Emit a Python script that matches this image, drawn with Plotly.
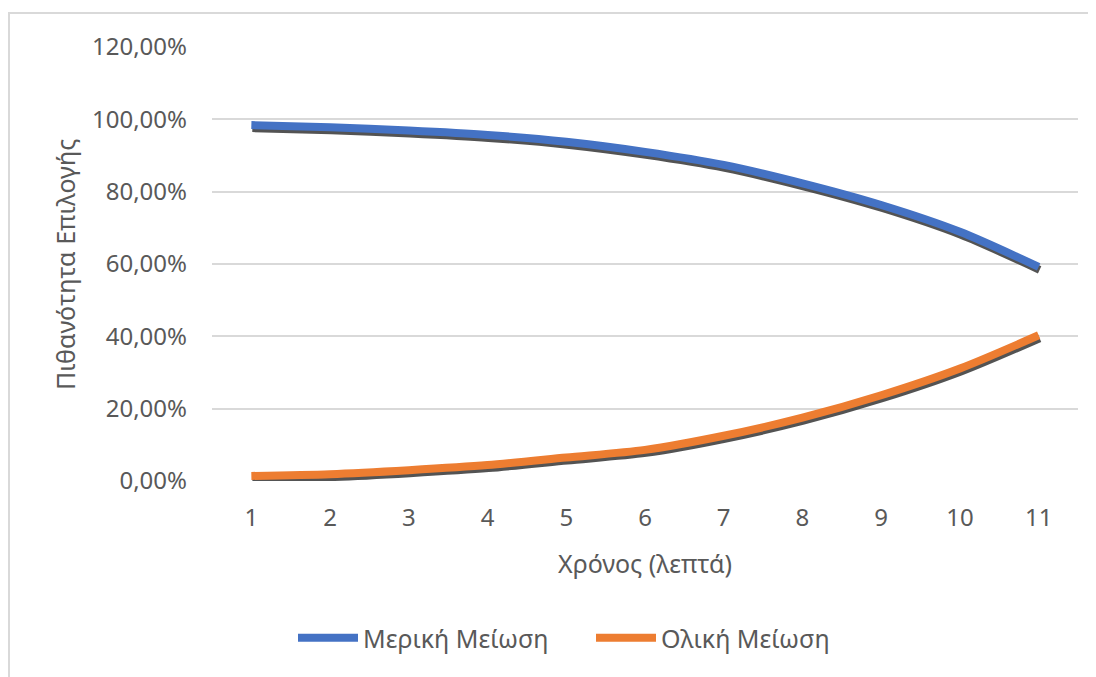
import plotly.graph_objects as go

minutes = [1, 2, 3, 4, 5, 6, 7, 8, 9, 10, 11]
partial = [0.984, 0.978, 0.969, 0.957, 0.938, 0.910, 0.874, 0.823, 0.763, 0.689, 0.592]
total = [0.014, 0.019, 0.030, 0.044, 0.065, 0.086, 0.125, 0.175, 0.237, 0.311, 0.403]
series_names = ["Μερική Μείωση", "Ολική Μείωση"]
series_colors = ["#4472C4", "#ED7D31"]
x_title = "Χρόνος (λεπτά)"
y_title = "Πιθανότητα Επιλογής"

FONT = "Noto Sans"
GREY = "#595959"
O = 8  # page body margin
W, H = 1096 - O, 677 - O
L, T = 212 - O, 47 - O
pw, ph = 866, 434
R, B = W - L - pw, H - T - ph

dy = 3 * 1.2 / ph
dx = 1 * 11 / pw

fig = go.Figure()
# invisible trace anchoring main axes (grid + tick labels)
fig.add_trace(go.Scatter(x=minutes, y=partial, mode="lines", line=dict(width=0),
                         showlegend=False, hoverinfo="skip", opacity=0))
for vals in (partial, total):
    fig.add_trace(go.Scatter(x=minutes, y=vals, mode="lines", xaxis="x2", yaxis="y2",
                             line=dict(color="rgba(64,64,64,0.9)", width=8, shape="spline", smoothing=0.8),
                             showlegend=False, hoverinfo="skip"))
for name, vals, col in zip(series_names, (partial, total), series_colors):
    fig.add_trace(go.Scatter(x=minutes, y=vals, mode="lines", name=name, xaxis="x3", yaxis="y3",
                             line=dict(color=col, width=8, shape="spline", smoothing=0.8)))

px = lambda x: (x - O - L) / pw
py = lambda y: (H - B - (y - O)) / ph

fig.update_layout(
    width=W, height=H,
    margin=dict(l=L, r=R, t=T, b=B),
    paper_bgcolor="white", plot_bgcolor="white",
    separators=",.",
    font=dict(family=FONT, size=24, color=GREY),
    xaxis=dict(range=[0.5, 11.5], tickvals=minutes, showgrid=False, zeroline=False,
               showline=False, ticks="", tickfont=dict(size=24, color=GREY), ticklabelstandoff=20),
    yaxis=dict(range=[0, 1.2], dtick=0.2, tickformat=".2%", showgrid=True, gridcolor="#d9d9d9",
               gridwidth=1.5, zeroline=False, showline=False, ticks="",
               tickfont=dict(size=24, color=GREY), ticklabelstandoff=24),
    xaxis2=dict(range=[0.5 - dx, 11.5 - dx], overlaying="x", visible=False),
    yaxis2=dict(range=[dy, 1.2 + dy], overlaying="y", visible=False),
    xaxis3=dict(range=[0.5, 11.5], overlaying="x", visible=False),
    yaxis3=dict(range=[0, 1.2], overlaying="y", visible=False),
    legend=dict(orientation="h", x=px(591), xanchor="center", y=py(638), yanchor="middle",
                font=dict(size=25, color=GREY), itemwidth=60, entrywidth=223,
                bgcolor="rgba(0,0,0,0)"),
    annotations=[
        dict(text=x_title, xref="paper", yref="paper", x=px(645), y=py(563), showarrow=False,
             font=dict(size=25, color=GREY), xanchor="center", yanchor="middle"),
        dict(text=y_title, xref="paper", yref="paper", x=px(65), y=py(265), showarrow=False,
             textangle=-90, font=dict(size=25, color=GREY), xanchor="center", yanchor="middle"),
    ],
    shapes=[
        dict(type="line", xref="paper", yref="paper", x0=px(8), x1=px(1100), y0=py(13), y1=py(13),
             line=dict(color="#d9d9d9", width=2)),
        dict(type="line", xref="paper", yref="paper", x0=px(9), x1=px(9), y0=py(13), y1=py(680),
             line=dict(color="#d9d9d9", width=2)),
    ],
)

fig.write_html("out.html")
